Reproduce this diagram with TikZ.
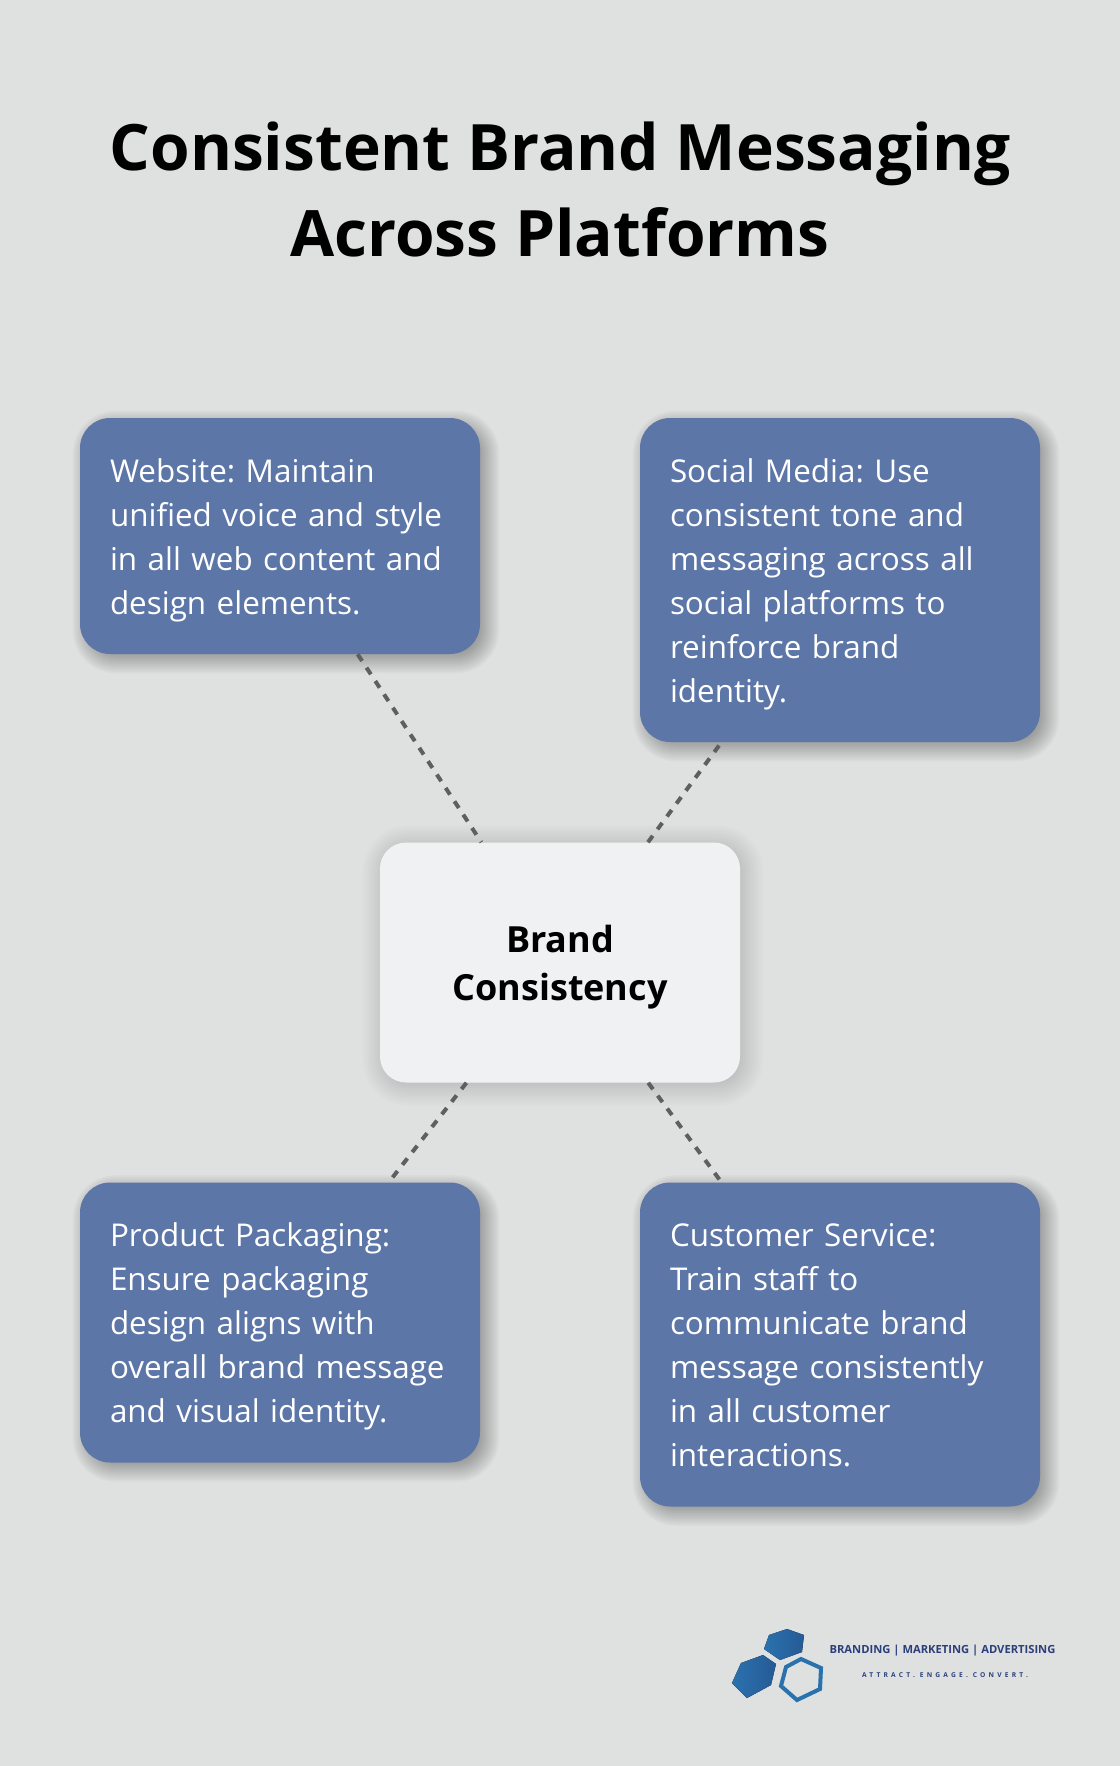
\documentclass[tikz,border=0pt]{standalone}
\usepackage{fontspec}
\setmainfont{Open Sans}
\newfontfamily\tagfont[LetterSpace=48]{Open Sans}
\pgfdeclarelayer{background}
\pgfsetlayers{background,main}
\definecolor{pagegray}{HTML}{DFE1E0}
\definecolor{boxblue}{HTML}{5D76A8}
\definecolor{centerwhite}{HTML}{EFF1F3}
\definecolor{linkgray}{HTML}{5F5F5F}
\definecolor{logoblue}{HTML}{2A72AE}
\definecolor{logodark}{HTML}{265A96}
\definecolor{logonavy}{HTML}{2B3F7C}
\tikzset{
  infobox/.style={fill=boxblue,text=white,rounded corners=22.5pt,align=left,
    text width=255pt,inner xsep=22.5pt,inner ysep=0pt,minimum width=300pt,
    font=\fontsize{23.55}{33}\selectfont\frenchspacing},
  centerbox/.style={fill=centerwhite,rounded corners=19.5pt,align=center,
    minimum width=270pt,minimum height=180pt,inner sep=0pt,
    font=\fontsize{27}{36}\selectfont\bfseries},
  linkline/.style={draw=linkgray,line width=3pt,dash pattern=on 6pt off 6pt},
  logohex/.style={left color=logoblue,right color=logodark,draw=none}
}
\newcommand{\firstline}{\rule{0pt}{28.3pt}}
% soft shadow behind a named node: name, offset, reach, corner, opacity of one step
\newcommand{\softshadow}[5]{
    \foreach \u in {-1,-.875,...,1}{
        \pgfmathsetmacro{\grow}{#3*\u}
        \pgfmathsetmacro{\cornerr}{max(#4+\grow*.75,2)}
        \fill[black,opacity=#5,rounded corners=\cornerr pt]
            ([shift={(#2-\grow,#2-\grow)}]#1.north west) rectangle ([shift={(#2+\grow,#2+\grow)}]#1.south east);
    }
}
\begin{document}
\begin{tikzpicture}[x=.75pt,y=-.75pt]
    \useasboundingbox (0,0) rectangle (1120,1766);
    \node[align=center,font=\fontsize{48}{64.5}\selectfont\bfseries] (title) at (560,189.5) {Consistent Brand Messaging\\Across Platforms};
    \node[infobox,minimum height=177pt] (website) at (280,536) {\firstline Website: Maintain\\unified voice and style\\in all web content and\\design elements.\strut};
    \node[infobox,minimum height=243pt] (social) at (840,580) {\firstline Social Media: Use\\consistent tone and\\messaging across all\\social platforms to\\reinforce brand\\identity.\strut};
    \node[infobox,minimum height=210pt] (packaging) at (280,1322.5) {\firstline Product Packaging:\\Ensure packaging\\design aligns with\\overall brand message\\and visual identity.\strut};
    \node[infobox,minimum height=243pt] (service) at (840,1344.5) {\firstline Customer Service:\\Train staff to\\communicate brand\\message consistently\\in all customer\\interactions.\strut};
    \node[centerbox] (brand) at (560,962.5) {\rule{0pt}{27.3pt}Brand\\Consistency};
    \begin{pgfonlayer}{background}
        \fill[pagegray] (0,0) rectangle (1120,1766);
        \softshadow{website}{6}{13}{22.5}{.025}
        \softshadow{social}{6}{13}{22.5}{.025}
        \softshadow{packaging}{6}{13}{22.5}{.025}
        \softshadow{service}{6}{13}{22.5}{.025}
        \softshadow{brand}{3}{20}{19.5}{.012}
    \end{pgfonlayer}
    % links between the boxes
    \draw[linkline] (website) -- (brand);
    \draw[linkline] (brand) -- (social);
    \draw[linkline] (brand) -- (packaging);
    \draw[linkline] (brand) -- (service);
    % logo
    \fill[logohex] (787,1629) -- (804,1635) -- (802,1652) -- (780,1660) -- (764,1649) -- (769,1635) -- cycle;
    \fill[logohex] (763,1655) -- (776,1664) -- (771,1685) -- (747,1698) -- (732,1683) -- (741,1663) -- cycle;
    \draw[logoblue,line width=3pt,line join=miter] (801,1659) -- (821,1668) -- (820,1689) -- (797,1700) -- (781,1686) -- (786,1667) -- cycle;
    \node[text=logonavy,font=\fontsize{8.4}{10}\selectfont\bfseries] (slogan) at (942.5,1651) {BRANDING | MARKETING | ADVERTISING};
    \node[text=logonavy,font=\fontsize{5}{8}\tagfont\bfseries] (tagline) at (945,1675) {ATTRACT. ENGAGE. CONVERT.};
\end{tikzpicture}
\end{document}
